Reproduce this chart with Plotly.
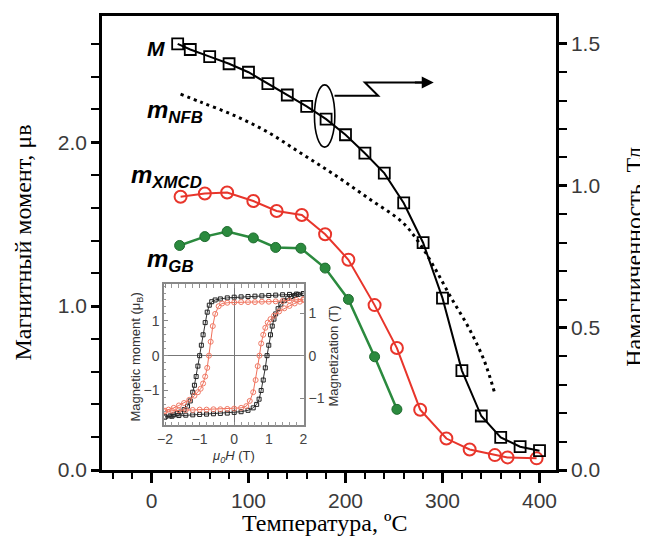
import plotly.graph_objects as go

# ---------------- main chart data ----------------
T_M = [27, 40, 60, 80, 100, 120, 140, 160, 180, 200, 220, 240, 260, 280, 300, 320, 340, 360, 380, 400]
M_tesla = [1.50, 1.48, 1.455, 1.43, 1.40, 1.36, 1.32, 1.28, 1.235, 1.18, 1.115, 1.045, 0.94, 0.80,
           0.605, 0.35, 0.19, 0.115, 0.082, 0.068]

T_XMCD = [30, 55, 78, 105, 129, 155, 179, 203, 230, 253, 277, 304, 328, 354, 367, 397]
m_XMCD = [1.667, 1.687, 1.693, 1.641, 1.58, 1.556, 1.438, 1.283, 1.006, 0.744, 0.368, 0.192,
          0.125, 0.091, 0.077, 0.071]

T_GB = [29, 55, 78, 105, 128, 154, 179, 203, 230, 253]
m_GB = [1.37, 1.424, 1.455, 1.416, 1.358, 1.353, 1.232, 1.041, 0.691, 0.37]

T_NFB = [30, 51, 85, 120, 155, 189, 224, 258, 275, 292, 309, 327, 343, 354]
m_NFB = [2.293, 2.244, 2.164, 2.061, 1.929, 1.80, 1.656, 1.515, 1.394, 1.232, 1.05, 0.868, 0.667, 0.465]

x_ticks = [0, 100, 200, 300, 400]

# ---------------- inset (hysteresis) data ----------------
H_black_down = [2.0, 1.8, 1.6, 1.4, 1.2, 1.0, 0.8, 0.6, 0.4, 0.2, 0.0, -0.2, -0.4, -0.55, -0.65, -0.72,
                -0.78, -0.84, -0.9, -0.95, -1.0, -1.05, -1.1, -1.15, -1.2, -1.27, -1.35, -1.45, -1.55,
                -1.65, -1.75, -1.85, -2.0]
M_black_down = [1.78, 1.77, 1.76, 1.75, 1.74, 1.73, 1.72, 1.71, 1.70, 1.69, 1.68, 1.66, 1.63, 1.60, 1.55,
                1.45, 1.25, 0.95, 0.6, 0.3, 0.0, -0.3, -0.6, -0.85, -1.05, -1.3, -1.45, -1.55, -1.62,
                -1.66, -1.70, -1.73, -1.76]
H_black_up = [-2.0, -1.8, -1.6, -1.4, -1.2, -1.0, -0.8, -0.6, -0.4, -0.2, 0.0, 0.2, 0.4, 0.55, 0.65, 0.72,
              0.78, 0.84, 0.9, 0.95, 1.0, 1.05, 1.1, 1.15, 1.2, 1.27, 1.35, 1.45, 1.55, 1.65, 1.75, 1.85, 2.0]
M_black_up = [-1.76, -1.74, -1.72, -1.71, -1.70, -1.69, -1.68, -1.67, -1.66, -1.65, -1.63, -1.61, -1.57,
              -1.50, -1.40, -1.25, -1.0, -0.7, -0.35, 0.0, 0.3, 0.6, 0.85, 1.05, 1.2, 1.35, 1.48, 1.58,
              1.65, 1.70, 1.73, 1.76, 1.78]

H_red_down = [2.0, 1.8, 1.6, 1.4, 1.2, 1.0, 0.8, 0.6, 0.4, 0.2, 0.0, -0.2, -0.35, -0.45, -0.55, -0.62,
              -0.68, -0.73, -0.78, -0.84, -0.9, -0.97, -1.05, -1.15, -1.3, -1.45, -1.6, -1.75, -1.9, -2.0]
M_red_down = [1.62, 1.60, 1.58, 1.57, 1.56, 1.55, 1.55, 1.54, 1.54, 1.54, 1.53, 1.52, 1.50, 1.42, 1.2,
              0.85, 0.4, 0.0, -0.35, -0.6, -0.8, -0.95, -1.05, -1.15, -1.27, -1.36, -1.43, -1.50, -1.55,
              -1.58]
H_red_up = [-2.0, -1.8, -1.6, -1.4, -1.2, -1.0, -0.8, -0.6, -0.4, -0.2, 0.0, 0.2, 0.35, 0.45, 0.55, 0.62,
            0.68, 0.73, 0.78, 0.84, 0.9, 0.97, 1.05, 1.15, 1.3, 1.45, 1.6, 1.75, 1.9, 2.0]
M_red_up = [-1.60, -1.58, -1.57, -1.56, -1.56, -1.55, -1.55, -1.54, -1.54, -1.53, -1.52, -1.50, -1.45,
            -1.3, -1.05, -0.7, -0.3, 0.0, 0.35, 0.6, 0.8, 0.95, 1.05, 1.15, 1.27, 1.36, 1.43, 1.50, 1.55,
            1.60]

inset_x_ticks = [-2, -1, 0, 1, 2]
inset_x_labels = ["\u22122", "\u22121", "0", "1", "2"]
inset_y_ticks = [-1, 0, 1]
inset_y_labels = ["\u22121", "0", "1"]

RED = "#e8352b"
GREEN = "#2b8a3e"
SANS = "Liberation Sans, Arial, sans-serif"
SERIF = "Liberation Serif, Times New Roman, serif"

fig = go.Figure()

# main traces
fig.add_trace(go.Scatter(x=T_NFB, y=m_NFB, mode="lines", xaxis="x", yaxis="y",
                         line=dict(color="black", width=3, dash="3px,4px", shape="spline")))
fig.add_trace(go.Scatter(x=T_XMCD, y=m_XMCD, mode="lines+markers", xaxis="x", yaxis="y",
                         line=dict(color=RED, width=2),
                         marker=dict(symbol="circle-open", size=12, color=RED, line=dict(width=2))))
fig.add_trace(go.Scatter(x=T_GB, y=m_GB, mode="lines+markers", xaxis="x", yaxis="y",
                         line=dict(color=GREEN, width=2.5),
                         marker=dict(symbol="circle", size=10, color=GREEN,
                                     line=dict(color="#1e6b2e", width=1))))
fig.add_trace(go.Scatter(x=T_M, y=M_tesla, mode="lines+markers", xaxis="x", yaxis="y2",
                         line=dict(color="black", width=2),
                         marker=dict(symbol="square-open", size=11, color="black", line=dict(width=1.8))))

# inset traces
for H, Mv in [(H_black_down, M_black_down), (H_black_up, M_black_up)]:
    fig.add_trace(go.Scatter(x=H, y=Mv, mode="lines+markers", xaxis="x3", yaxis="y3",
                             line=dict(color="#333333", width=1),
                             marker=dict(symbol="square-open", size=4, color="#222222",
                                         line=dict(width=1))))
for H, Mv in [(H_red_down, M_red_down), (H_red_up, M_red_up)]:
    fig.add_trace(go.Scatter(x=H, y=Mv, mode="lines+markers", xaxis="x3", yaxis="y3",
                             line=dict(color="#f0705a", width=1),
                             marker=dict(symbol="circle-open", size=5, color="#f07a66",
                                         line=dict(width=1))))
# invisible trace so the inset right axis (magnetization) is drawn
fig.add_trace(go.Scatter(x=[0], y=[0], mode="markers", xaxis="x3", yaxis="y4",
                         marker=dict(opacity=0), hoverinfo="skip"))

tickfont = dict(family=SANS, size=21, color="#3a3a3a")
inset_tickfont = dict(family=SANS, size=14, color="#444444")

# page has an 8px body margin; figure is sized so the plot area lands at the reference pixels
fig.update_layout(
    width=640, height=542,
    margin=dict(l=94, r=92, t=5, b=80),
    paper_bgcolor="white", plot_bgcolor="white",
    showlegend=False,
    xaxis=dict(domain=[0, 1], range=[-51, 417], tickvals=x_ticks, ticks="outside", ticklen=10,
               tickwidth=2.5, tickcolor="black",
               minor=dict(dtick=20, tick0=0, ticks="outside", ticklen=6, tickwidth=2, tickcolor="black"),
               showline=True, linewidth=2.5, linecolor="black", mirror=True,
               showgrid=False, zeroline=False, tickfont=tickfont),
    yaxis=dict(domain=[0, 1], range=[0, 2.77], dtick=1, tick0=0, tickformat=".1f", ticks="outside",
               ticklen=8, tickwidth=2.5, tickcolor="black",
               minor=dict(dtick=0.2, tick0=0, ticks="outside", ticklen=8, tickwidth=2, tickcolor="black"),
               showline=True, linewidth=2.5, linecolor="black",
               showgrid=False, zeroline=False, tickfont=tickfont),
    yaxis2=dict(overlaying="y", side="right", anchor="x", range=[0, 1.598], dtick=0.5, tick0=0,
                tickformat=".1f", ticks="outside", ticklen=8, tickwidth=2.5, tickcolor="black",
                minor=dict(dtick=0.1, tick0=0, ticks="outside", ticklen=8, tickwidth=2, tickcolor="black"),
                showline=True, linewidth=2.5, linecolor="black",
                showgrid=False, zeroline=False, tickfont=tickfont),
    xaxis3=dict(domain=[0.1366, 0.445], anchor="y3", range=[-2.03, 2.02],
                tickvals=inset_x_ticks, ticktext=inset_x_labels,
                ticks="inside", ticklen=4, tickcolor="#888888", mirror="allticks",
                minor=dict(dtick=0.2, ticks="inside", ticklen=2, tickcolor="#999999"),
                showline=True, linewidth=1.5, linecolor="#888888",
                showgrid=False, zeroline=True, zerolinecolor="#777777", zerolinewidth=1.2,
                tickfont=inset_tickfont),
    yaxis3=dict(domain=[0.0985, 0.409], anchor="x3", range=[-2.0, 2.05],
                tickvals=inset_y_ticks, ticktext=inset_y_labels,
                ticks="inside", ticklen=4, tickcolor="#888888",
                minor=dict(dtick=0.2, ticks="inside", ticklen=2, tickcolor="#999999"),
                showline=True, linewidth=1.5, linecolor="#888888",
                showgrid=False, zeroline=True, zerolinecolor="#777777", zerolinewidth=1.2,
                tickfont=inset_tickfont),
    yaxis4=dict(overlaying="y3", anchor="x3", side="right", range=[-1.64, 1.68],
                tickvals=inset_y_ticks, ticktext=inset_y_labels,
                ticks="inside", ticklen=4, tickcolor="#888888",
                showline=True, linewidth=1.5, linecolor="#888888",
                showgrid=False, zeroline=False, tickfont=inset_tickfont),
)

# ellipse and zigzag arrow pointing to the right axis
fig.add_shape(type="circle", xref="x", yref="y", x0=168, x1=189, y0=1.97, y1=2.35,
              line=dict(color="black", width=1.6))
fig.add_shape(type="path", xref="x", yref="y",
              path="M 188.7,2.283 L 233.7,2.283 L 220,2.364 L 285,2.364",
              line=dict(color="black", width=2))
fig.add_annotation(x=291, y=2.364, ax=270, ay=2.364, xref="x", yref="y", axref="x", ayref="y",
                   text="", showarrow=True, arrowhead=2, arrowsize=1.2, arrowwidth=2, arrowcolor="black")

# curve labels
labels = [
    ("<b><i>M</i></b>", -7, 2.57, 21),
    ("<b><i>m</i></b><sub><b><i>NFB</i></b></sub>", -7, 2.19, 24),
    ("<b><i>m</i></b><sub><b><i>XMCD</i></b></sub>", -23, 1.79, 24),
    ("<b><i>m</i></b><sub><b><i>GB</i></b></sub>", -7, 1.28, 24),
]
for txt, xx, yy, fs in labels:
    fig.add_annotation(x=xx, y=yy, xref="x", yref="y", text=txt, showarrow=False,
                       xanchor="left", yanchor="middle",
                       font=dict(family=SANS, size=fs, color="black"))

# main axis titles
title_font = dict(family=SERIF, size=24, color="black")
fig.add_annotation(x=-0.175, y=0.5, xref="paper", yref="paper", text="Магнитный момент, μв",
                   textangle=-90, showarrow=False, font=title_font, xanchor="center", yanchor="middle")
fig.add_annotation(x=1.172, y=0.47, xref="paper", yref="paper", text="Намагниченность, Тл",
                   textangle=-90, showarrow=False, font=title_font, xanchor="center", yanchor="middle")
fig.add_annotation(x=0.49, y=-0.116, xref="paper", yref="paper", text="Температура, ºС",
                   showarrow=False, font=title_font, xanchor="center", yanchor="middle")

# inset titles
in_font = dict(family=SANS, size=13, color="#333333")
fig.add_annotation(x=0.077, y=0.25, xref="paper", yref="paper",
                   text="Magnetic moment (μ<sub>B</sub>)", textangle=-90, showarrow=False,
                   font=in_font, xanchor="center", yanchor="middle")
fig.add_annotation(x=0.509, y=0.25, xref="paper", yref="paper",
                   text="Magnetization (T)", textangle=-90, showarrow=False,
                   font=in_font, xanchor="center", yanchor="middle")
fig.add_annotation(x=0.29, y=0.03, xref="paper", yref="paper",
                   text="<i>μ</i><sub><i>0</i></sub><i>H</i> (T)", showarrow=False,
                   font=in_font, xanchor="center", yanchor="middle")

fig.write_html("out.html")
